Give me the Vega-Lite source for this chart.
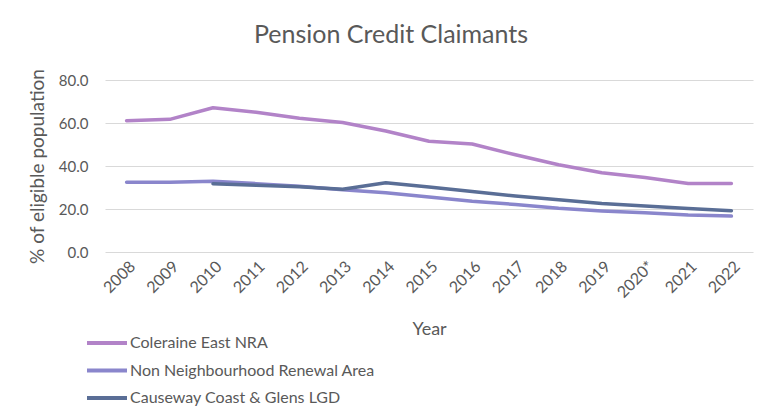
{
  "$schema": "https://vega.github.io/schema/vega-lite/v6.json",
  "width": 648,
  "height": 172,
  "autosize": {"type": "none"},
  "padding": {"left": 105, "top": 80, "right": 12, "bottom": 166},
  "background": "white",
  "title": {
    "text": "Pension Credit Claimants",
    "font": "Lato",
    "fontSize": 25,
    "fontWeight": "normal",
    "color": "#595959",
    "anchor": "middle",
    "dx": -38,
    "offset": 20
  },
  "data": {
    "values": [
      {"year": "2008", "series": "Coleraine East NRA", "value": 61.1},
      {"year": "2009", "series": "Coleraine East NRA", "value": 61.7},
      {"year": "2010", "series": "Coleraine East NRA", "value": 67.1},
      {"year": "2011", "series": "Coleraine East NRA", "value": 65.0},
      {"year": "2012", "series": "Coleraine East NRA", "value": 62.2},
      {"year": "2013", "series": "Coleraine East NRA", "value": 60.2},
      {"year": "2014", "series": "Coleraine East NRA", "value": 56.3},
      {"year": "2015", "series": "Coleraine East NRA", "value": 51.5},
      {"year": "2016", "series": "Coleraine East NRA", "value": 50.2},
      {"year": "2017", "series": "Coleraine East NRA", "value": 45.2},
      {"year": "2018", "series": "Coleraine East NRA", "value": 40.6},
      {"year": "2019", "series": "Coleraine East NRA", "value": 36.9},
      {"year": "2020*", "series": "Coleraine East NRA", "value": 34.7},
      {"year": "2021", "series": "Coleraine East NRA", "value": 31.9},
      {"year": "2022", "series": "Coleraine East NRA", "value": 31.9},
      {"year": "2008", "series": "Non Neighbourhood Renewal Area", "value": 32.4},
      {"year": "2009", "series": "Non Neighbourhood Renewal Area", "value": 32.4},
      {"year": "2010", "series": "Non Neighbourhood Renewal Area", "value": 32.9},
      {"year": "2011", "series": "Non Neighbourhood Renewal Area", "value": 31.8},
      {"year": "2012", "series": "Non Neighbourhood Renewal Area", "value": 30.6},
      {"year": "2013", "series": "Non Neighbourhood Renewal Area", "value": 29.0},
      {"year": "2014", "series": "Non Neighbourhood Renewal Area", "value": 27.6},
      {"year": "2015", "series": "Non Neighbourhood Renewal Area", "value": 25.6},
      {"year": "2016", "series": "Non Neighbourhood Renewal Area", "value": 23.6},
      {"year": "2017", "series": "Non Neighbourhood Renewal Area", "value": 22.1},
      {"year": "2018", "series": "Non Neighbourhood Renewal Area", "value": 20.3},
      {"year": "2019", "series": "Non Neighbourhood Renewal Area", "value": 19.1},
      {"year": "2020*", "series": "Non Neighbourhood Renewal Area", "value": 18.2},
      {"year": "2021", "series": "Non Neighbourhood Renewal Area", "value": 17.2},
      {"year": "2022", "series": "Non Neighbourhood Renewal Area", "value": 16.7},
      {"year": "2010", "series": "Causeway Coast & Glens LGD", "value": 31.8},
      {"year": "2011", "series": "Causeway Coast & Glens LGD", "value": 31.0},
      {"year": "2012", "series": "Causeway Coast & Glens LGD", "value": 30.3},
      {"year": "2013", "series": "Causeway Coast & Glens LGD", "value": 29.2},
      {"year": "2014", "series": "Causeway Coast & Glens LGD", "value": 32.2},
      {"year": "2015", "series": "Causeway Coast & Glens LGD", "value": 30.2},
      {"year": "2016", "series": "Causeway Coast & Glens LGD", "value": 28.1},
      {"year": "2017", "series": "Causeway Coast & Glens LGD", "value": 26.0},
      {"year": "2018", "series": "Causeway Coast & Glens LGD", "value": 24.3},
      {"year": "2019", "series": "Causeway Coast & Glens LGD", "value": 22.6},
      {"year": "2020*", "series": "Causeway Coast & Glens LGD", "value": 21.4},
      {"year": "2021", "series": "Causeway Coast & Glens LGD", "value": 20.2},
      {"year": "2022", "series": "Causeway Coast & Glens LGD", "value": 19.2}
    ]
  },
  "mark": {"type": "line", "strokeWidth": 3.5, "strokeCap": "round", "strokeJoin": "round"},
  "encoding": {
    "x": {
      "field": "year",
      "type": "ordinal",
      "sort": ["2008","2009","2010","2011","2012","2013","2014","2015","2016","2017","2018","2019","2020*","2021","2022"],
      "scale": {"padding": 0.5},
      "axis": {
        "title": "Year",
        "titleFont": "Lato",
        "titleFontSize": 18,
        "titleFontWeight": "normal",
        "titleColor": "#595959",
        "titlePadding": 20,
        "labelAngle": -45,
        "labelFont": "Lato",
        "labelFontSize": 16,
        "labelColor": "#595959",
        "labelPadding": 6,
        "ticks": false,
        "domain": false,
        "grid": false
      }
    },
    "y": {
      "field": "value",
      "type": "quantitative",
      "scale": {"domain": [0, 80]},
      "axis": {
        "title": "% of eligible population",
        "titleFont": "Lato",
        "titleFontSize": 19,
        "titleFontWeight": "normal",
        "titleColor": "#595959",
        "titlePadding": 11,
        "values": [0, 20, 40, 60, 80],
        "format": ".1f",
        "labelFont": "Lato",
        "labelFontSize": 15,
        "labelColor": "#595959",
        "labelPadding": 17,
        "ticks": false,
        "domain": false,
        "grid": true,
        "gridColor": "#d9d9d9",
        "gridWidth": 1
      }
    },
    "color": {
      "field": "series",
      "type": "nominal",
      "scale": {
        "domain": ["Coleraine East NRA", "Non Neighbourhood Renewal Area", "Causeway Coast & Glens LGD"],
        "range": ["#b283c8", "#8a86cc", "#5a6e96"]
      },
      "legend": {
        "title": null,
        "orient": "none",
        "legendX": -6,
        "legendY": 255,
        "direction": "vertical",
        "symbolType": "M-4,0H4",
        "symbolSize": 100,
        "symbolStrokeWidth": 4,
        "labelOffset": 15,
        "labelLimit": 0,
        "labelFont": "Lato",
        "labelFontSize": 16,
        "labelColor": "#595959",
        "rowPadding": 11.5
      }
    }
  },
  "config": {"view": {"stroke": null}}
}
